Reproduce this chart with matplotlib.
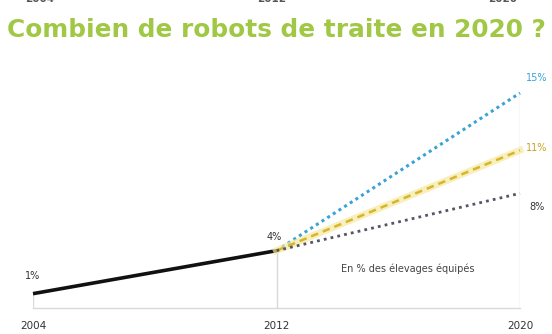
import matplotlib
matplotlib.use("Agg")
import matplotlib.pyplot as plt

years = [2004, 2012, 2020]
hist_years = [2004, 2012]
hist_values = [1, 4]
proj_years = [2012, 2020]
high_values = [4, 15]
mid_values = [4, 11]
low_values = [4, 8]
tick_labels = ["2004", "2012", "2020"]
title = "Combien de robots de traite en 2020 ?"
note = "En % des élevages équipés"

W, H = 552, 334
fig = plt.figure(figsize=(W / 100, H / 100), dpi=100)
fig.patch.set_facecolor("white")

ax = fig.add_axes([33 / W, (H - 308) / H, (520 - 33) / W, (308 - 93) / H])
ax.set_xlim(2004, 2020)
ax.set_ylim(0, 15)
for s in ax.spines.values():
    s.set_visible(False)
ax.set_xticks([])
ax.set_yticks([])

grid_c = "#d9d9d9"
ax.axhline(0, color=grid_c, lw=1, clip_on=False)
ax.vlines(hist_years[0], 0, hist_values[0], color=grid_c, lw=1)
ax.vlines(hist_years[1], 0, hist_values[1], color=grid_c, lw=1)
ax.vlines(proj_years[1], 0, high_values[1], color=grid_c, lw=1)

ax.plot(hist_years, hist_values, color="#111111", lw=2.6, solid_capstyle="butt", clip_on=False)
ax.plot(proj_years, high_values, color="#3aa3d6", lw=2.2, ls=(0, (1, 1.2)), clip_on=False)
ax.plot(proj_years, mid_values, color="#f6eaa0", lw=5, alpha=0.7, clip_on=False)
ax.plot(proj_years, mid_values, color="#d8b52a", lw=1.8, ls=(0, (3, 2)), clip_on=False)
ax.plot(proj_years, low_values, color="#555566", lw=2, ls=(0, (1, 1.5)), clip_on=False)

lab_kw = dict(fontsize=7, family="DejaVu Sans", ha="center", va="center")
ax.annotate(f"{hist_values[0]}%", (hist_years[0], hist_values[0]), xytext=(0, 13),
            textcoords="offset points", color="#333333", **lab_kw)
ax.annotate(f"{hist_values[1]}%", (hist_years[1], hist_values[1]), xytext=(-2, 10),
            textcoords="offset points", color="#333333", **lab_kw)
ax.annotate(f"{high_values[1]}%", (proj_years[1], high_values[1]), xytext=(12, 11),
            textcoords="offset points", color="#3aa3d6", **lab_kw)
ax.annotate(f"{mid_values[1]}%", (proj_years[1], mid_values[1]), xytext=(12, 2),
            textcoords="offset points", color="#c9a21e", **lab_kw)
ax.annotate(f"{low_values[1]}%", (proj_years[1], low_values[1]), xytext=(12, -10),
            textcoords="offset points", color="#333333", **lab_kw)

for yr, lab in zip(years, tick_labels):
    ax.annotate(lab, (yr, 0), xytext=(0, -13), textcoords="offset points",
                fontsize=7.5, ha="center", va="center", color="#333333")

fig.text(408 / W, 1 - 269 / H, note, fontsize=7, ha="center", va="center", color="#444444")
fig.text(0.5, 1 - 30 / H, title, fontsize=17.8, fontweight="bold", ha="center", va="center",
         color="#a0c845")

for x, lab in zip([40, 272, 503], tick_labels):
    fig.text(x / W, 1.0 + 1.5 / H, lab, fontsize=7.5, fontweight="bold", ha="center",
             va="center", color="#555555")

fig.savefig("out.png", dpi=100, facecolor="white")
